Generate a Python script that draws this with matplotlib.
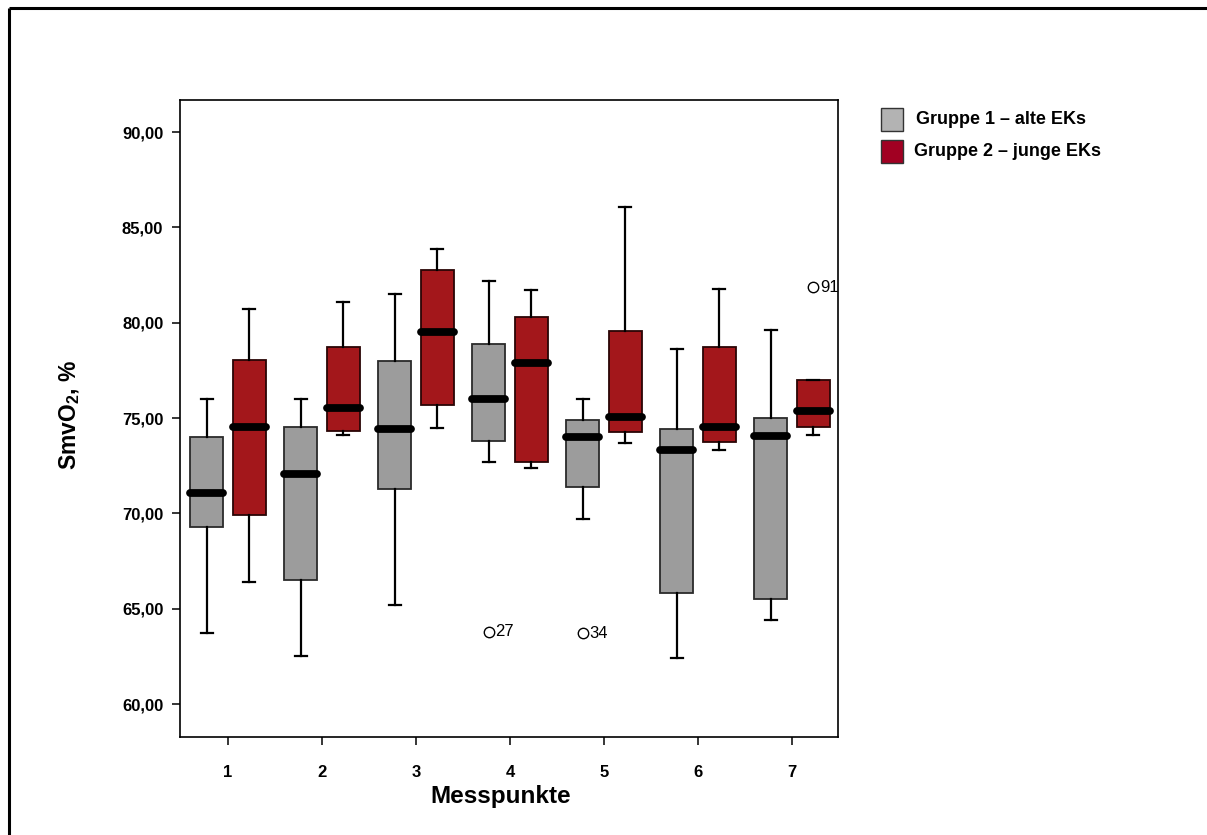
import matplotlib
matplotlib.use("Agg")
import matplotlib.pyplot as plt
from matplotlib.lines import Line2D
from matplotlib.patches import Rectangle

plt.rcParams['font.family'] = ['Liberation Sans', 'DejaVu Sans']
plt.rcParams['mathtext.fontset'] = 'custom'
plt.rcParams['mathtext.rm'] = 'Liberation Sans:bold'
plt.rcParams['mathtext.bf'] = 'Liberation Sans:bold'
plt.rcParams['mathtext.it'] = 'Liberation Sans:bold'

# ---- data ----
messpunkte = [1, 2, 3, 4, 5, 6, 7]
tick_labels = ["1", "2", "3", "4", "5", "6", "7"]
y_ticks = [60, 65, 70, 75, 80, 85, 90]

# Gruppe 1 - alte EKs
g1_whislo = [63.7, 62.5, 65.2, 72.7, 69.7, 62.4, 64.4]
g1_q1     = [69.3, 66.5, 71.3, 73.8, 71.4, 65.8, 65.5]
g1_med    = [71.05, 72.05, 74.4, 76.0, 74.0, 73.3, 74.05]
g1_q3     = [74.0, 74.55, 78.0, 78.9, 74.9, 74.4, 75.0]
g1_whishi = [76.0, 76.0, 81.5, 82.2, 76.0, 78.6, 79.6]
g1_fliers = [[], [], [], [63.8], [63.7], [], []]
g1_flier_ids = [[], [], [], ["27"], ["34"], [], []]

# Gruppe 2 - junge EKs
g2_whislo = [66.4, 74.1, 74.5, 72.4, 73.7, 73.3, 74.1]
g2_q1     = [69.9, 74.3, 75.7, 72.7, 74.25, 73.75, 74.55]
g2_med    = [74.55, 75.55, 79.5, 77.9, 75.05, 74.55, 75.35]
g2_q3     = [78.05, 78.7, 82.75, 80.3, 79.55, 78.7, 77.0]
g2_whishi = [80.7, 81.1, 83.85, 81.7, 86.05, 81.75, 77.0]
g2_fliers = [[], [], [], [], [], [], [81.85]]
g2_flier_ids = [[], [], [], [], [], [], ["91"]]

legend_labels = ["Gruppe 1 \u2013 alte EKs", "Gruppe 2 \u2013 junge EKs"]

# ---- styling ----
grey = "#9c9c9c"
red = "#a3171b"
legend_grey = "#b3b3b3"
legend_red = "#a10022"
offset = 0.225
bw = 0.35

W, H = 1207, 835
fig = plt.figure(figsize=(W / 100, H / 100), dpi=100)
ax = fig.add_axes([180 / W, 1 - 737 / H, 658 / W, 637 / H])


def stats(whislo, q1, med, q3, whishi, fliers):
    return [dict(whislo=a, q1=b, med=c, q3=d, whishi=e, fliers=f)
            for a, b, c, d, e, f in zip(whislo, q1, med, q3, whishi, fliers)]


def draw(st, positions, color, edge):
    ax.bxp(st, positions=positions, widths=bw, capwidths=0.13,
           patch_artist=True, manage_ticks=False,
           boxprops=dict(facecolor=color, edgecolor=edge, linewidth=1.3),
           whiskerprops=dict(color="black", linewidth=1.6),
           capprops=dict(color="black", linewidth=1.6),
           medianprops=dict(color="black", linewidth=5.6, solid_capstyle="round"),
           flierprops=dict(marker="o", markerfacecolor="none",
                           markeredgecolor="black", markersize=7.5,
                           markeredgewidth=1.0, linestyle="none"))


pos1 = [m - offset for m in messpunkte]
pos2 = [m + offset for m in messpunkte]
draw(stats(g1_whislo, g1_q1, g1_med, g1_q3, g1_whishi, g1_fliers), pos1, grey, "#2a2a2a")
draw(stats(g2_whislo, g2_q1, g2_med, g2_q3, g2_whishi, g2_fliers), pos2, red, "#2a0505")

for pos, fl, ids in [(pos1, g1_fliers, g1_flier_ids), (pos2, g2_fliers, g2_flier_ids)]:
    for p, vals, labs in zip(pos, fl, ids):
        for v, lab in zip(vals, labs):
            ax.annotate(lab, (p, v), xytext=(4.8, 0), textcoords="offset points",
                        va="center", ha="left", fontsize=12)

ax.set_xlim(0.49, 7.49)
ax.set_ylim(58.27, 91.68)
ax.set_xticks(messpunkte)
ax.set_xticklabels(tick_labels, fontweight="bold", fontsize=12)
ax.set_yticks(y_ticks)
ax.set_yticklabels([f"{v:.2f}".replace(".", ",") for v in y_ticks],
                   fontweight="bold", fontsize=12)
ax.tick_params(axis="y", direction="out", length=6, width=1.1, pad=6)
ax.tick_params(axis="x", direction="out", length=6, width=1.1, pad=14)
for s in ax.spines.values():
    s.set_linewidth(1.2)
    s.set_color("black")

fig.text(501 / W, 1 - 797 / H, "Messpunkte", ha="center", va="center",
         fontsize=17.5, fontweight="bold")
fig.text(70 / W, 1 - 415 / H, r"SmvO$_{2}$, %", ha="center", va="center",
         rotation=90, fontsize=16.5, fontweight="bold")

# legend
for (y0, col, lab, tx) in [(108, legend_grey, legend_labels[0], 916),
                           (140, legend_red, legend_labels[1], 914)]:
    fig.patches.append(Rectangle((881 / W, 1 - (y0 + 23) / H), 22 / W, 23 / H,
                                 transform=fig.transFigure, facecolor=col,
                                 edgecolor="#333333", linewidth=1.0))
    fig.text(tx / W, 1 - (y0 + 12) / H, lab, ha="left", va="center",
             fontsize=13, fontweight="bold")

# outer frame (top and left)
fig.add_artist(Line2D([9 / W, 1.0], [1 - 8 / H, 1 - 8 / H], transform=fig.transFigure,
                      color="black", linewidth=2.2, solid_capstyle="butt"))
fig.add_artist(Line2D([9 / W, 9 / W], [1 - 8 / H, 0.0], transform=fig.transFigure,
                      color="black", linewidth=2.2, solid_capstyle="butt"))

fig.savefig("out.png", dpi=100)
